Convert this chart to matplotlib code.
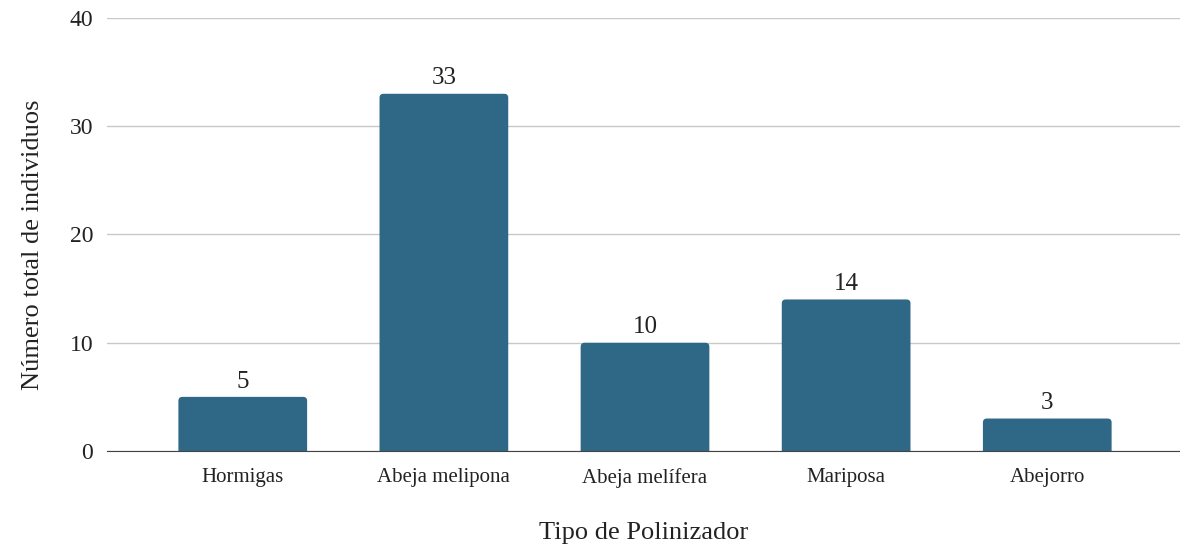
import matplotlib.pyplot as plt
from matplotlib.patches import FancyBboxPatch

categorias = ["Hormigas", "Abeja melipona", "Abeja melífera", "Mariposa", "Abejorro"]
individuos = [5, 33, 10, 14, 3]
yticks = [0, 10, 20, 30, 40]

plt.rcParams['font.family'] = ['Liberation Serif', 'DejaVu Serif']

fig = plt.figure(figsize=(11.8, 5.46), dpi=100)
ax = fig.add_axes([107/1180, 1 - 451/546, 1073/1180, 433/546])

ancho = 0.64
for i, v in enumerate(individuos):
    # barra con esquinas redondeadas; la parte baja queda recortada bajo el eje
    p = FancyBboxPatch((i - ancho/2, -1), ancho, v + 1,
                       boxstyle="round,pad=0,rounding_size=0.02",
                       mutation_aspect=18.5, facecolor='#2f6787',
                       edgecolor='none', zorder=3)
    ax.add_patch(p)
    ax.text(i, v + 0.4, str(v), ha='center', va='bottom',
            fontsize=18, color='#222222')

ax.set_ylim(0, 40)
ax.set_xlim(-0.675, 4.66)
ax.set_yticks(yticks)
ax.set_yticklabels([str(t) for t in yticks], fontsize=17, color='#222222')
ax.set_xticks(range(len(categorias)))
ax.set_xticklabels(categorias, fontsize=15, color='#222222')
ax.tick_params(axis='both', length=0)
ax.tick_params(axis='y', pad=10)
ax.tick_params(axis='x', pad=12)
ax.yaxis.grid(True, color='#c8c8c8', linewidth=1, zorder=0)
for s in ['top', 'right', 'left']:
    ax.spines[s].set_visible(False)
ax.spines['bottom'].set_color('#444444')
ax.spines['bottom'].set_zorder(4)

ax.set_ylabel("Número total de individuos", fontsize=19, color='#222222')
ax.set_xlabel("Tipo de Polinizador", fontsize=19, color='#222222')
ax.yaxis.label.set_va('center')
ax.xaxis.label.set_va('center')
ax.yaxis.set_label_coords(-0.069, 0.476)
ax.xaxis.set_label_coords(0.5, -0.19)

fig.savefig("out.png", dpi=100)
